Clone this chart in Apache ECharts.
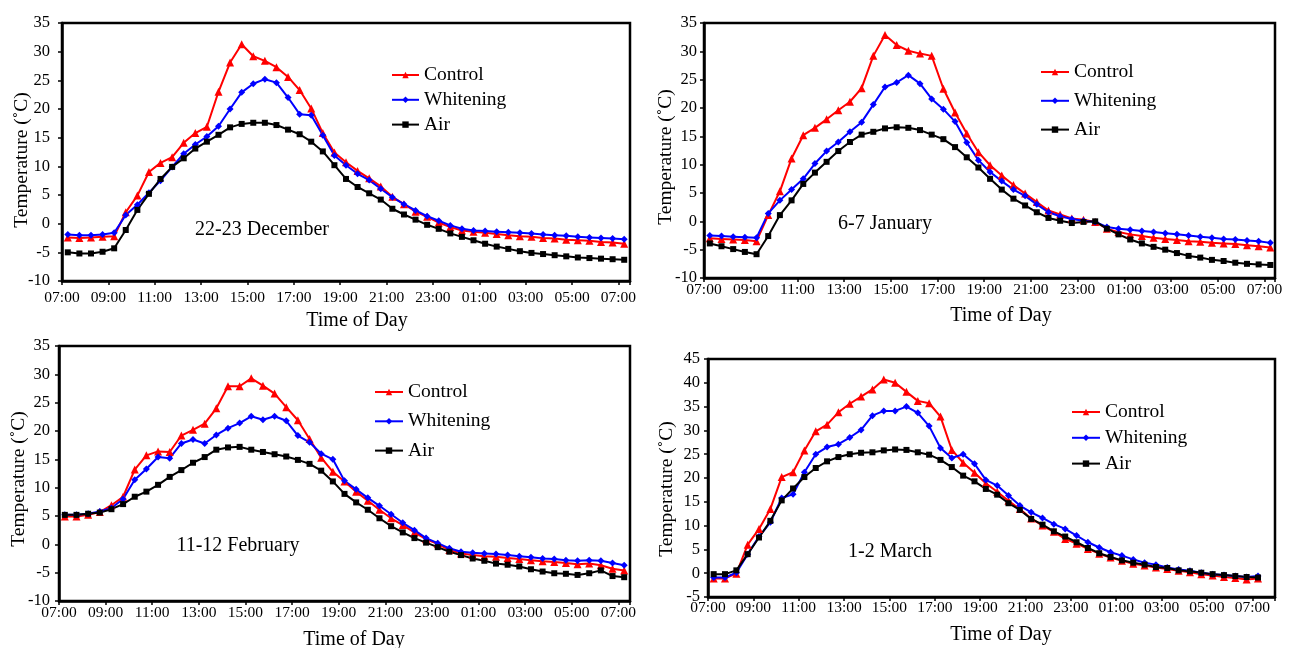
<!DOCTYPE html>
<html>
<head>
<meta charset="utf-8">
<title>Temperature of Day</title>
<script src="https://cdn.jsdelivr.net/npm/echarts/dist/echarts.min.js"></script>
<style>
  html, body { margin: 0; padding: 0; background: #fff; }
  #chart { width: 1289px; height: 648px; }
</style>
</head>
<body>
<div id="chart"></div>
<script>
// Half-hourly sample times (07:15 one morning to 07:15 the next)
const times = [
  '07:15','07:45','08:15','08:45','09:15','09:45','10:15','10:45','11:15','11:45',
  '12:15','12:45','13:15','13:45','14:15','14:45','15:15','15:45','16:15','16:45',
  '17:15','17:45','18:15','18:45','19:15','19:45','20:15','20:45','21:15','21:45',
  '22:15','22:45','23:15','23:45','00:15','00:45','01:15','01:45','02:15','02:45',
  '03:15','03:45','04:15','04:45','05:15','05:45','06:15','06:45','07:15'
];

const seriesNames = ['Control', 'Whitening', 'Air'];
const periodLabels = ['22-23 December', '6-7 January', '11-12 February', '1-2 March'];

// 22-23 December
const decControl = [
  -2.4, -2.5, -2.4, -2.3, -2.2, 2.0, 4.9, 9.0, 10.6, 11.6,
  14.1, 15.8, 16.9, 23.0, 28.1, 31.3, 29.2, 28.4, 27.3, 25.6,
  23.3, 20.1, 15.8, 12.4, 10.7, 9.2, 7.9, 6.5, 4.7, 3.4,
  2.1, 1.2, 0.2, -0.6, -1.2, -1.4, -1.6, -1.8, -2.0, -2.2,
  -2.3, -2.5, -2.6, -2.8, -2.9, -3.0, -3.2, -3.3, -3.5
];
const decWhitening = [
  -1.9, -2.0, -2.0, -1.9, -1.6, 1.5, 3.3, 5.4, 7.5, 9.9,
  12.2, 13.8, 15.2, 17.0, 20.0, 22.9, 24.4, 25.2, 24.6, 22.0,
  19.1, 18.9, 15.4, 11.9, 10.2, 8.7, 7.6, 6.1, 4.6, 3.4,
  2.3, 1.3, 0.5, -0.3, -0.9, -1.2, -1.3, -1.4, -1.5, -1.6,
  -1.7, -1.9, -2.0, -2.1, -2.3, -2.4, -2.5, -2.6, -2.7
];
const decAir = [
  -5.0, -5.2, -5.2, -4.9, -4.3, -1.1, 2.4, 5.2, 7.8, 9.9,
  11.4, 13.1, 14.3, 15.5, 16.8, 17.4, 17.6, 17.6, 17.2, 16.4,
  15.6, 14.3, 12.6, 10.2, 7.8, 6.4, 5.3, 4.2, 2.6, 1.6,
  0.7, -0.2, -0.9, -1.7, -2.3, -2.9, -3.5, -4.0, -4.4, -4.8,
  -5.1, -5.3, -5.5, -5.7, -5.9, -6.0, -6.1, -6.2, -6.3
];

// 6-7 January
const janControl = [
  -3.0, -3.1, -3.2, -3.3, -3.5, 1.1, 5.3, 11.1, 15.2, 16.5,
  18.0, 19.6, 21.1, 23.5, 29.2, 32.9, 31.1, 30.1, 29.6, 29.2,
  23.4, 19.2, 15.5, 12.2, 9.9, 8.1, 6.4, 4.9, 3.4, 1.9,
  1.2, 0.5, 0.3, -0.1, -1.3, -1.9, -2.3, -2.6, -2.9, -3.1,
  -3.3, -3.5, -3.6, -3.8, -3.9, -4.0, -4.2, -4.4, -4.6
];
const janWhitening = [
  -2.5, -2.6, -2.7, -2.8, -2.9, 1.4, 3.7, 5.6, 7.5, 10.2,
  12.4, 14.0, 15.8, 17.5, 20.6, 23.7, 24.5, 25.8, 24.3, 21.6,
  19.8, 17.6, 13.9, 10.8, 8.7, 7.1, 5.6, 4.5, 3.0, 1.6,
  0.9, 0.4, 0.1, -0.1, -1.0, -1.3, -1.5, -1.7, -1.9, -2.1,
  -2.3, -2.5, -2.7, -2.9, -3.1, -3.2, -3.4, -3.5, -3.8
];
const janAir = [
  -3.9, -4.4, -4.9, -5.4, -5.8, -2.6, 1.1, 3.7, 6.6, 8.6,
  10.5, 12.4, 14.0, 15.3, 15.8, 16.4, 16.6, 16.5, 16.1, 15.3,
  14.5, 13.1, 11.3, 9.5, 7.5, 5.6, 4.0, 2.8, 1.6, 0.6,
  0.1, -0.3, -0.1, 0.0, -1.3, -2.3, -3.2, -3.9, -4.5, -5.0,
  -5.6, -6.1, -6.4, -6.8, -7.0, -7.3, -7.5, -7.6, -7.7
];

// 11-12 February
const febControl = [
  4.9, 4.9, 5.2, 5.7, 6.9, 8.4, 13.2, 15.7, 16.4, 16.3,
  19.2, 20.2, 21.3, 24.0, 27.9, 27.9, 29.3, 28.0, 26.6, 24.2,
  21.9, 18.6, 15.3, 12.8, 11.1, 9.3, 7.7, 6.1, 4.6, 3.4,
  2.1, 0.9, 0.1, -1.0, -1.6, -1.9, -2.1, -2.2, -2.4, -2.6,
  -2.8, -3.0, -3.1, -3.3, -3.5, -3.4, -3.7, -4.3, -4.6
];
const febWhitening = [
  5.2, 5.2, 5.4, 5.8, 6.4, 8.0, 11.4, 13.3, 15.4, 15.2,
  17.8, 18.5, 17.8, 19.3, 20.5, 21.4, 22.6, 22.0, 22.6, 21.8,
  19.2, 18.0, 16.0, 15.0, 11.2, 9.7, 8.2, 6.8, 5.3, 3.8,
  2.5, 1.1, 0.2, -0.7, -1.3, -1.5, -1.6, -1.7, -1.9, -2.1,
  -2.3, -2.5, -2.6, -2.8, -2.9, -2.8, -2.9, -3.3, -3.7
];
const febAir = [
  5.2, 5.2, 5.4, 5.6, 6.2, 7.1, 8.4, 9.3, 10.5, 11.9,
  13.1, 14.4, 15.4, 16.7, 17.1, 17.2, 16.7, 16.3, 15.9, 15.5,
  14.9, 14.2, 13.0, 11.1, 8.9, 7.4, 6.1, 4.6, 3.2, 2.1,
  1.1, 0.3, -0.5, -1.3, -1.9, -2.5, -2.9, -3.4, -3.6, -3.9,
  -4.4, -4.8, -5.1, -5.2, -5.4, -5.1, -4.6, -5.6, -5.8
];

// 1-2 March
const marControl = [
  -1.1, -1.1, -0.1, 6.0, 9.3, 13.5, 20.2, 21.2, 25.8, 29.8,
  31.2, 33.8, 35.6, 37.1, 38.6, 40.7, 40.0, 38.1, 36.2, 35.7,
  32.9, 25.9, 23.2, 21.1, 18.9, 17.1, 15.2, 13.5, 11.5, 10.0,
  8.7, 7.2, 6.2, 5.1, 4.1, 3.3, 2.6, 2.0, 1.6, 1.2,
  0.9, 0.5, 0.2, -0.2, -0.5, -0.8, -1.0, -1.3, -1.1
];
const marWhitening = [
  -0.9, -0.9, 0.1, 4.0, 7.7, 10.7, 15.8, 16.6, 21.2, 25.0,
  26.5, 27.1, 28.5, 30.1, 33.1, 34.1, 34.1, 35.0, 33.7, 30.9,
  26.3, 24.2, 25.0, 23.0, 19.6, 18.4, 16.3, 14.2, 12.8, 11.6,
  10.3, 9.3, 7.9, 6.5, 5.4, 4.4, 3.7, 2.9, 2.2, 1.8,
  1.2, 0.8, 0.5, 0.1, -0.2, -0.4, -0.6, -0.8, -0.6
];
const marAir = [
  -0.2, -0.2, 0.6, 4.0, 7.5, 11.0, 15.3, 17.8, 20.2, 22.1,
  23.5, 24.4, 25.0, 25.3, 25.4, 25.8, 26.0, 25.9, 25.4, 24.9,
  23.8, 22.3, 20.5, 19.3, 17.7, 16.5, 14.7, 13.3, 11.4, 10.2,
  8.8, 7.7, 6.5, 5.3, 4.2, 3.4, 2.7, 2.2, 1.8, 1.3,
  1.1, 0.6, 0.4, 0.1, -0.2, -0.4, -0.6, -0.8, -0.9
];

// Temperature axis ranges per panel
const yRanges = [[-10, 35], [-10, 35], [-10, 35], [-5, 45]];

const panelData = [
  [decControl, decWhitening, decAir],
  [janControl, janWhitening, janAir],
  [febControl, febWhitening, febAir],
  [marControl, marWhitening, marAir]
];

// Hours elapsed since 07:00 for each sample (wraps past midnight)
const hoursSince7 = [];
times.forEach((t, i) => {
  const [h, m] = t.split(':').map(Number);
  let v = ((h * 60 + m - 420 + 1440) % 1440) / 60;
  while (i > 0 && v <= hoursSince7[i - 1]) v += 24;
  hoursSince7.push(v);
});

// ---- layout (pixels) ----
const layout = [
  { grid: { left: 62,  top: 23,  width: 568, height: 258 }, xMax: 24.5,  xMargin: 9, yMargin: 12,
    legend: { left: 391,  top: 65,  gap: 4.8, w: 27 }, note: [262, 230], xTitle: [357, 321], yTitle: [22, 160] },
  { grid: { left: 704, top: 23,  width: 571, height: 255 }, xMax: 24.45, xMargin: 4, yMargin: 7,
    legend: { left: 1040, top: 62,  gap: 8.8, w: 28 }, note: [885, 224], xTitle: [1001, 316], yTitle: [666, 157] },
  { grid: { left: 59,  top: 346, width: 571, height: 255 }, xMax: 24.5,  xMargin: 4, yMargin: 9,
    legend: { left: 374,  top: 382, gap: 9.3, w: 28 }, note: [238, 546], xTitle: [354, 640], yTitle: [19, 479] },
  { grid: { left: 708, top: 359, width: 567, height: 238 }, xMax: 25.0,  xMargin: 3, yMargin: 8,
    legend: { left: 1071, top: 402, gap: 5.8, w: 28 }, note: [890, 552], xTitle: [1001, 635], yTitle: [667, 489] }
];

const FONT = '"Liberation Serif", "Times New Roman", serif';
const seriesStyle = [
  { color: '#ff0000', symbol: 'triangle', symbolSize: 8 },
  { color: '#0000ff', symbol: 'diamond',  symbolSize: 7 },
  { color: '#000000', symbol: 'rect',     symbolSize: 6 }
];

const grids = [], xAxes = [], yAxes = [], series = [], legends = [], graphics = [];

layout.forEach((L, p) => {
  grids.push(Object.assign({
    show: true, borderColor: '#000', borderWidth: 2.5, backgroundColor: 'transparent',
    containLabel: false, outerBoundsMode: 'none'
  }, L.grid));

  xAxes.push({
    type: 'value', gridIndex: p, min: 0, max: L.xMax, interval: 2,
    axisLine: { show: true, onZero: false, lineStyle: { color: '#000', width: 2.5 } },
    axisTick: { show: true, length: 4, lineStyle: { color: '#000', width: 1.5 } },
    splitLine: { show: false },
    axisLabel: {
      margin: L.xMargin, color: '#000', fontFamily: FONT, fontSize: 15.5, hideOverlap: false,
      formatter: v => {
        if (Math.abs(v % 2) > 1e-6) return '';
        const h = (Math.round(v) + 7) % 24;
        return String(h).padStart(2, '0') + ':00';
      }
    }
  });

  yAxes.push({
    type: 'value', gridIndex: p, min: yRanges[p][0], max: yRanges[p][1], interval: 5,
    axisLine: { show: true, onZero: false, lineStyle: { color: '#000', width: 2.5 } },
    axisTick: { show: true, length: 4, lineStyle: { color: '#000', width: 1.5 } },
    splitLine: { show: false },
    axisLabel: { margin: L.yMargin, color: '#000', fontFamily: FONT, fontSize: 16.5 }
  });

  panelData[p].forEach((vals, s) => {
    const st = seriesStyle[s];
    series.push({
      type: 'line', name: seriesNames[s], xAxisIndex: p, yAxisIndex: p,
      data: vals.map((v, i) => [hoursSince7[i], v]),
      symbol: st.symbol, symbolSize: st.symbolSize, showAllSymbol: true,
      lineStyle: { color: st.color, width: 2 },
      itemStyle: { color: st.color },
      emphasis: { disabled: true },
      animation: false
    });
  });

  legends.push({
    orient: 'vertical', left: L.legend.left, top: L.legend.top,
    itemGap: L.legend.gap, itemWidth: L.legend.w, itemHeight: 8,
    selectedMode: false, padding: 0,
    data: seriesNames,
    textStyle: { color: '#000', fontFamily: FONT, fontSize: 19.5, lineHeight: 20 }
  });

  graphics.push({
    type: 'text', x: L.note[0], y: L.note[1],
    style: { text: periodLabels[p], font: '20px ' + FONT, fill: '#000',
             textAlign: 'center', textVerticalAlign: 'middle', align: 'center', verticalAlign: 'middle' }
  });
  graphics.push({
    type: 'text', x: L.xTitle[0], y: L.xTitle[1],
    style: { text: 'Time of Day', font: '20px ' + FONT, fill: '#000',
             textAlign: 'center', textVerticalAlign: 'middle', align: 'center', verticalAlign: 'middle' }
  });
  graphics.push({
    type: 'text', x: L.yTitle[0], y: L.yTitle[1], rotation: Math.PI / 2,
    style: { text: 'Temperature (˚C)', font: '19.5px ' + FONT, fill: '#000',
             textAlign: 'center', textVerticalAlign: 'middle', align: 'center', verticalAlign: 'middle' }
  });
});

const chart = echarts.init(document.getElementById('chart'), null, { renderer: 'canvas' });
chart.setOption({
  animation: false,
  backgroundColor: '#fff',
  grid: grids,
  xAxis: xAxes,
  yAxis: yAxes,
  legend: legends,
  series: series,
  graphic: graphics,
  tooltip: { show: false }
});
</script>
</body>
</html>
